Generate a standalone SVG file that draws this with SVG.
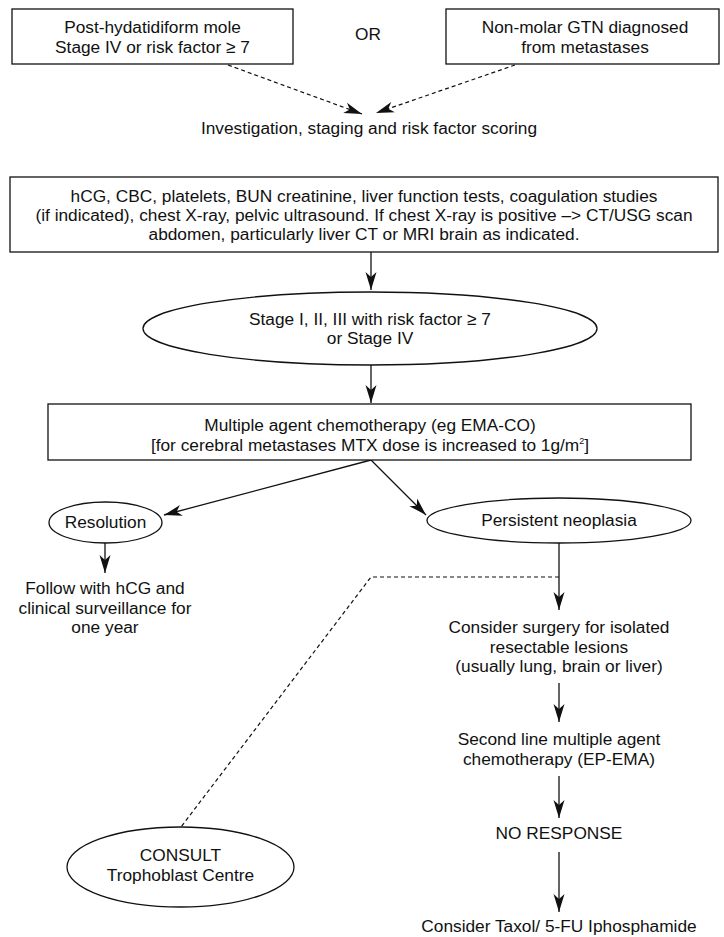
<svg xmlns="http://www.w3.org/2000/svg" width="724" height="937" viewBox="0 0 724 937">
  <style>
    .box { fill: #fff; stroke: #111; stroke-width: 1.3; }
    .oval { fill: #fff; stroke: #111; stroke-width: 1.3; }
    .t { font-family: "Liberation Sans", Arial, sans-serif; font-size: 17.3px; fill: #111; text-anchor: middle; }
    .link { fill: none; stroke: #111; stroke-width: 1.3; }
    .dash { fill: none; stroke: #111; stroke-width: 1.2; stroke-dasharray: 4 3; }
  </style>
  <defs>
    <marker id="head" viewBox="-19 -6 20 12" refX="0" refY="0" markerWidth="20" markerHeight="12" markerUnits="userSpaceOnUse" orient="auto">
      <path d="M0,0 L-18,-5.5 L-13,0 L-18,5.5 Z" fill="#111"/>
    </marker>
  </defs>

  <!-- connectors -->
  <g id="connectors">
    <line class="dash" x1="228" y1="65" x2="362" y2="114" marker-end="url(#head)"/>
    <line class="dash" x1="515" y1="65" x2="376" y2="113" marker-end="url(#head)"/>
    <line class="link" x1="371" y1="252" x2="371" y2="290" marker-end="url(#head)"/>
    <line class="link" x1="371" y1="365" x2="371" y2="403" marker-end="url(#head)"/>
    <line class="link" x1="371" y1="460" x2="164" y2="515" marker-end="url(#head)"/>
    <line class="link" x1="371" y1="460" x2="426" y2="515" marker-end="url(#head)"/>
    <line class="link" x1="105" y1="543" x2="105" y2="573" marker-end="url(#head)"/>
    <line class="link" x1="559" y1="543" x2="559" y2="610" marker-end="url(#head)"/>
    <polyline class="dash" points="559,577 371,577 181,827"/>
    <line class="link" x1="559" y1="683" x2="559" y2="722" marker-end="url(#head)"/>
    <line class="link" x1="559" y1="776" x2="559" y2="818" marker-end="url(#head)"/>
    <line class="link" x1="559" y1="852" x2="559" y2="912" marker-end="url(#head)"/>
  </g>

  <g id="post-molar">
    <rect class="box" x="12" y="9" width="281" height="55"/>
    <text class="t" x="152.5" y="33">Post-hydatidiform mole</text>
    <text class="t" x="152.5" y="53">Stage IV or risk factor ≥ 7</text>
  </g>

  <g id="or-label">
    <text class="t" x="368" y="40">OR</text>
  </g>

  <g id="non-molar">
    <rect class="box" x="446" y="9" width="273" height="55"/>
    <text class="t" x="585" y="33">Non-molar GTN diagnosed</text>
    <text class="t" x="585" y="53">from metastases</text>
  </g>

  <g id="investigation">
    <text class="t" x="369" y="134">Investigation, staging and risk factor scoring</text>
  </g>

  <g id="tests">
    <rect class="box" x="10" y="177" width="708" height="75"/>
    <text class="t" x="364" y="202">hCG, CBC, platelets, BUN creatinine, liver function tests, coagulation studies</text>
    <text class="t" x="364" y="221">(if indicated), chest X-ray, pelvic ultrasound. If chest X-ray is positive –&gt; CT/USG scan</text>
    <text class="t" x="364" y="240">abdomen, particularly liver CT or MRI brain as indicated.</text>
  </g>

  <g id="stage">
    <ellipse class="oval" cx="370" cy="328.5" rx="227" ry="36.5"/>
    <text class="t" x="370" y="325">Stage I, II, III with risk factor ≥ 7</text>
    <text class="t" x="370" y="344">or Stage IV</text>
  </g>

  <g id="chemo">
    <rect class="box" x="48" y="404" width="643" height="56"/>
    <text class="t" x="370" y="431">Multiple agent chemotherapy (eg EMA-CO)</text>
    <text class="t" x="370" y="451">[for cerebral metastases MTX dose is increased to 1g/m<tspan font-size="9" dy="-7">2</tspan><tspan dy="7">]</tspan></text>
  </g>

  <g id="resolution">
    <ellipse class="oval" cx="105.5" cy="522.5" rx="56.5" ry="20.5"/>
    <text class="t" x="105.5" y="528">Resolution</text>
  </g>

  <g id="follow">
    <text class="t" x="105" y="594">Follow with hCG and</text>
    <text class="t" x="105" y="613.5">clinical surveillance for</text>
    <text class="t" x="105" y="633">one year</text>
  </g>

  <g id="persistent">
    <ellipse class="oval" cx="559" cy="520.5" rx="132" ry="22.5"/>
    <text class="t" x="559" y="526">Persistent neoplasia</text>
  </g>

  <g id="surgery">
    <text class="t" x="559" y="633">Consider surgery for isolated</text>
    <text class="t" x="559" y="653">resectable lesions</text>
    <text class="t" x="559" y="672">(usually lung, brain or liver)</text>
  </g>

  <g id="second-line">
    <text class="t" x="559" y="745">Second line multiple agent</text>
    <text class="t" x="559" y="765">chemotherapy (EP-EMA)</text>
  </g>

  <g id="no-response">
    <text class="t" x="559" y="839">NO RESPONSE</text>
  </g>

  <g id="taxol">
    <text class="t" x="559" y="932">Consider Taxol/ 5-FU Iphosphamide</text>
  </g>

  <g id="consult">
    <ellipse class="oval" cx="180.5" cy="867" rx="113.5" ry="40"/>
    <text class="t" x="180.5" y="861">CONSULT</text>
    <text class="t" x="180.5" y="881">Trophoblast Centre</text>
  </g>
</svg>
